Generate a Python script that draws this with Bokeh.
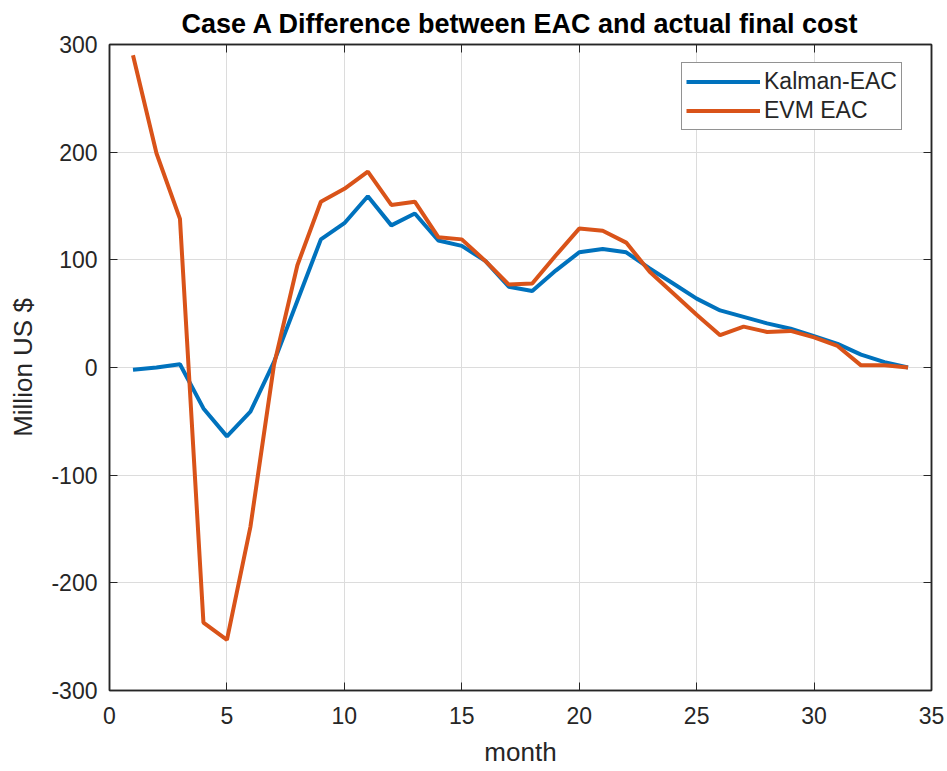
from bokeh.plotting import figure
from bokeh.models import Range1d, LinearAxis, FixedTicker, Legend, LegendItem, PrintfTickFormatter
from bokeh.embed import file_html
from bokeh.resources import INLINE

months = list(range(1, 35))
kalman_eac = [-2, 0, 3, -38, -64, -41, 5, 62, 119, 134, 159, 132, 143, 118, 113, 99,
              75, 71, 90, 107, 110, 107, 92, 78, 64, 53, 47, 41, 36, 29, 22, 12, 5, 0]
evm_eac = [290, 199, 138, -237, -253, -148, 2, 95, 154, 166, 182, 151, 154, 121, 119, 99,
           77, 78, 104, 129, 127, 116, 89, 69, 49, 30, 38, 33, 34, 28, 20, 2, 2, 0]
x_ticks = [0, 5, 10, 15, 20, 25, 30, 35]
y_ticks = [-300, -200, -100, 0, 100, 200, 300]

FONT = "Liberation Sans"
BLUE = "#0072BD"
ORANGE = "#D95319"
DARK = "#262626"

p = figure(width=947, height=771, output_backend="svg", toolbar_location=None,
           x_range=Range1d(0, 35), y_range=Range1d(-300, 300),
           min_border_left=109, min_border_right=16, min_border_top=44, min_border_bottom=81,
           title="Case A Difference between EAC and actual final cost")
p.title.align = "center"
p.title.text_font = FONT
p.title.text_font_size = "27px"
p.title.text_font_style = "bold"
p.title.text_color = "#000000"
p.title.offset = 0
p.title.standoff = 11

p.background_fill_color = "white"
p.border_fill_color = "white"
p.outline_line_color = DARK
p.outline_line_width = 1.5

for ax in (p.xaxis[0], p.yaxis[0]):
    ax.major_tick_in = 8
    ax.major_tick_out = 0
    ax.minor_tick_in = 0
    ax.minor_tick_out = 0
    ax.axis_line_color = DARK
    ax.axis_line_width = 1.5
    ax.major_tick_line_color = DARK
    ax.major_label_text_font = FONT
    ax.major_label_text_font_size = "23px"
    ax.major_label_text_color = DARK
    ax.axis_label_text_font = FONT
    ax.axis_label_text_font_size = "26px"
    ax.axis_label_text_font_style = "normal"
    ax.axis_label_text_color = DARK
    ax.formatter = PrintfTickFormatter(format="%d")

p.xaxis[0].ticker = FixedTicker(ticks=x_ticks)
p.yaxis[0].ticker = FixedTicker(ticks=y_ticks)
p.xaxis[0].axis_label = "month"
p.yaxis[0].axis_label = "Million US $"
p.xaxis[0].major_label_standoff = 16
p.yaxis[0].major_label_standoff = 12
p.xaxis[0].axis_label_standoff = 10
p.yaxis[0].axis_label_standoff = 10

top_ax = LinearAxis(ticker=FixedTicker(ticks=x_ticks), major_tick_in=8, major_tick_out=0,
                    minor_tick_in=0, minor_tick_out=0,
                    major_label_overrides={t: "" for t in x_ticks},
                    axis_line_color=DARK, axis_line_width=1.5, major_tick_line_color=DARK)
right_ax = LinearAxis(ticker=FixedTicker(ticks=y_ticks), major_tick_in=8, major_tick_out=0,
                      minor_tick_in=0, minor_tick_out=0,
                      major_label_overrides={t: "" for t in y_ticks},
                      axis_line_color=DARK, axis_line_width=1.5, major_tick_line_color=DARK)
top_ax.major_label_standoff = 0
right_ax.major_label_standoff = 0
p.add_layout(top_ax, "above")
p.add_layout(right_ax, "right")

p.xgrid.ticker = FixedTicker(ticks=x_ticks)
p.ygrid.ticker = FixedTicker(ticks=y_ticks)
p.grid.grid_line_color = "#dcdcdc"
p.grid.grid_line_width = 1

r1 = p.line(months, kalman_eac, line_color=BLUE, line_width=4)
r2 = p.line(months, evm_eac, line_color=ORANGE, line_width=4)

legend = Legend(items=[LegendItem(label="Kalman-EAC", renderers=[r1]),
                       LegendItem(label="EVM EAC", renderers=[r2])],
                location=(572, 560))
legend.margin = 0
legend.padding = 4
legend.spacing = 0
legend.glyph_width = 74
legend.glyph_height = 29
legend.label_standoff = 4
legend.label_height = 29
legend.label_text_font = FONT
legend.label_text_font_size = "23px"
legend.label_text_color = DARK
legend.border_line_color = DARK
legend.border_line_width = 1.2
legend.background_fill_color = "white"
legend.background_fill_alpha = 1
p.add_layout(legend)

open("out.html", "w").write(file_html(p, INLINE))
